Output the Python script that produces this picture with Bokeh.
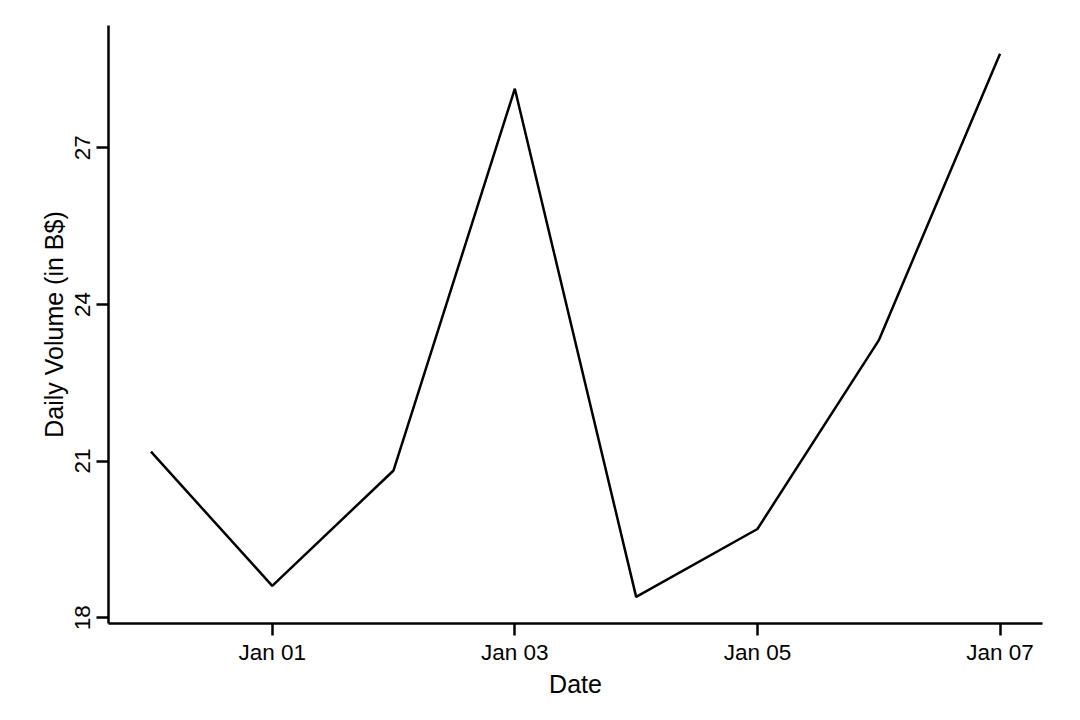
import pandas as pd
from bokeh.plotting import figure
from bokeh.models import FixedTicker, DatetimeTickFormatter, Range1d
from bokeh.embed import file_html
from bokeh.resources import INLINE

dates = ["2023-12-31", "2024-01-01", "2024-01-02", "2024-01-03",
         "2024-01-04", "2024-01-05", "2024-01-06", "2024-01-07"]
volume = [21.18, 18.61, 20.82, 28.13, 18.40, 19.70, 23.31, 28.80]
y_ticks = [18, 21, 24, 27]
x_tick_dates = ["2024-01-01", "2024-01-03", "2024-01-05", "2024-01-07"]

x = pd.to_datetime(dates)
pad = pd.Timedelta(hours=8.4)

p = figure(width=1064, height=704, output_backend="svg", toolbar_location=None,
           x_axis_type="datetime",
           x_range=Range1d(x[0] - pad, x[-1] + pad),
           y_range=Range1d(17.89, 29.34),
           min_border_left=108, min_border_top=25, min_border_right=22, min_border_bottom=81)

p.line(x, volume, line_color="black", line_width=2.5)

p.outline_line_color = None
p.xgrid.visible = False
p.ygrid.visible = False
p.background_fill_color = "white"
p.border_fill_color = "white"

font = "Liberation Sans"
for ax in (p.xaxis[0], p.yaxis[0]):
    ax.axis_line_width = 2.5
    ax.axis_line_color = "black"
    ax.major_tick_line_width = 2.5
    ax.major_tick_line_color = "black"
    ax.major_tick_out = 12
    ax.major_tick_in = 0
    ax.minor_tick_line_color = None
    ax.major_label_text_font = font
    ax.major_label_text_font_size = "22.5px"
    ax.major_label_text_color = "black"
    ax.axis_label_text_font = font
    ax.axis_label_text_font_size = "25px"
    ax.axis_label_text_font_style = "normal"
    ax.axis_label_text_color = "black"

p.xaxis.ticker = FixedTicker(ticks=[pd.Timestamp(d).value / 1e6 for d in x_tick_dates])
p.xaxis.formatter = DatetimeTickFormatter(days="%b %d", months="%b %d", hours="%b %d")
p.xaxis.axis_label = "Date"
p.xaxis.major_label_standoff = 4
p.xaxis.axis_label_standoff = 2

p.yaxis.ticker = FixedTicker(ticks=y_ticks)
p.yaxis.axis_label = "Daily Volume (in B$)"
p.yaxis.major_label_orientation = "vertical"
p.yaxis.major_label_standoff = 6
p.yaxis.axis_label_standoff = 5

open("out.html", "w").write(file_html(p, INLINE))
